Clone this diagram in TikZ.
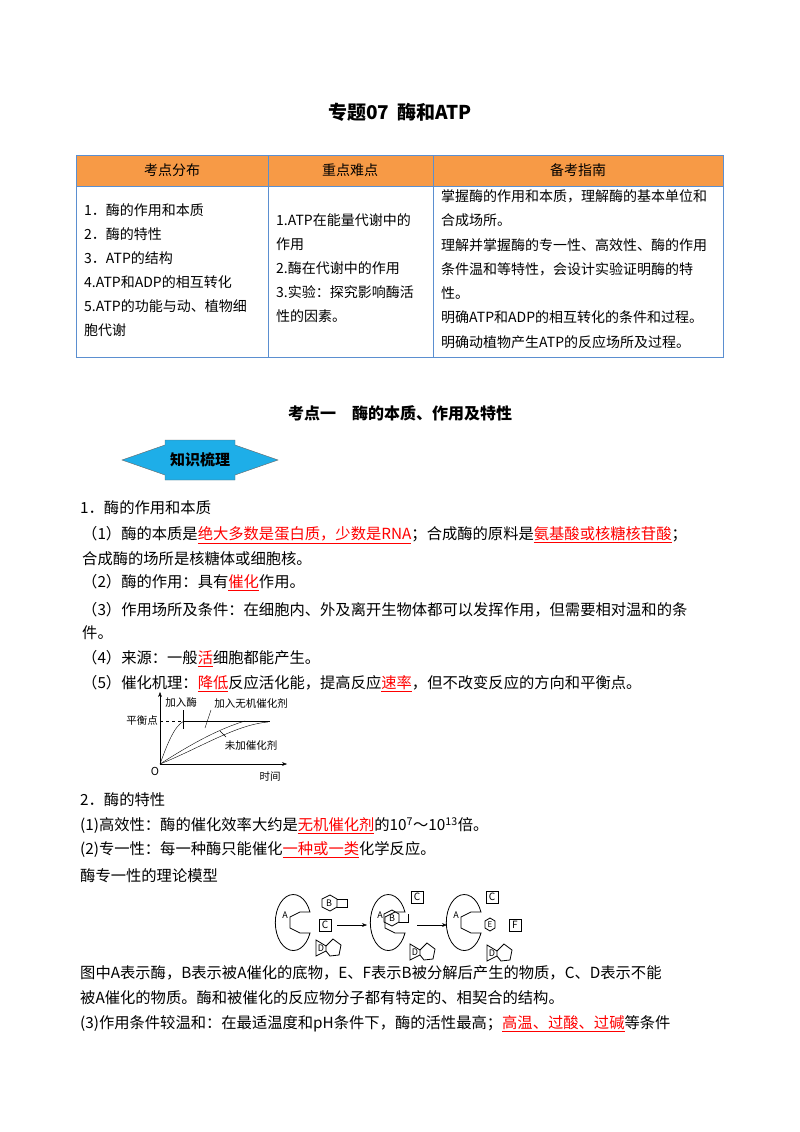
\documentclass[tikz,border=0pt]{standalone}
\usepackage{fontspec}
\setmainfont{Noto Sans CJK SC}
\usetikzlibrary{arrows.meta}
\newcommand\ru[1]{\textcolor{red}{\underline{#1}}}
\definecolor{hdr}{HTML}{F79A46}
\definecolor{bdr}{HTML}{5B8FD0}
\definecolor{badge}{HTML}{1EAEE8}
\begin{document}
\begin{tikzpicture}[x=1pt,y=-1pt,
  t/.style={anchor=west,inner sep=0pt,font=\fontsize{15.3}{16}\selectfont},
  tb/.style={anchor=west,inner sep=0pt,font=\fontsize{14}{15}\selectfont},
  c/.style={inner sep=0pt,font=\fontsize{14}{15}\selectfont},
  sm/.style={inner sep=0pt,font=\fontsize{10.5}{12}\selectfont},
  bx/.style={draw,thick,minimum size=12pt,inner sep=0pt,font=\fontsize{10}{10}\selectfont},
  shp/.style={thick}]
\useasboundingbox (0,0) rectangle (800,1132);
% title
\node[inner sep=0,font=\fontsize{19}{20}\selectfont\bfseries] (title) at (400,112) {专题07\ \ 酶和ATP};
% table
\fill[hdr] (76,155) rectangle (723,186);
\draw[bdr,thick] (76,155) rectangle (723,357) (76,186)--(723,186) (268,155)--(268,357) (433,155)--(433,357);
\node[c] (h1) at (172,170) {考点分布};
\node[c] (h2) at (350,170) {重点难点};
\node[c] (h3) at (578,170) {备考指南};
\node[tb] (a1) at (84,210) {1．酶的作用和本质};
\node[tb] (a2) at (84,234) {2．酶的特性};
\node[tb] (a3) at (84,258) {3．ATP的结构};
\node[tb] (a4) at (84,282) {4.ATP和ADP的相互转化};
\node[tb] (a5) at (84,306) {5.ATP的功能与动、植物细};
\node[tb] (a6) at (84,330) {胞代谢};
\node[tb] (b1) at (276,220) {1.ATP在能量代谢中的};
\node[tb] (b2) at (276,244) {作用};
\node[tb] (b3) at (276,268) {2.酶在代谢中的作用};
\node[tb] (b4) at (276,292) {3.实验：探究影响酶活};
\node[tb] (b5) at (276,316) {性的因素。};
\node[tb] (c1) at (441,196) {掌握酶的作用和本质，理解酶的基本单位和};
\node[tb] (c2) at (441,220) {合成场所。};
\node[tb] (c3) at (441,245) {理解并掌握酶的专一性、高效性、酶的作用};
\node[tb] (c4) at (441,269) {条件温和等特性，会设计实验证明酶的特};
\node[tb] (c5) at (441,293) {性。};
\node[tb] (c6) at (441,317) {明确ATP和ADP的相互转化的条件和过程。};
\node[tb] (c7) at (441,342) {明确动植物产生ATP的反应场所及过程。};
% section
\node[inner sep=0,font=\fontsize{16}{18}\selectfont\bfseries] (sec) at (400,413) {考点一\quad 酶的本质、作用及特性};
% badge
\fill[badge,draw=black!60,thin] (122,460)--(165,445)--(165,440)--(235,440)--(235,445)--(278,460)--(235,475)--(235,480)--(165,480)--(165,475)--cycle;
\node[inner sep=0,font=\fontsize{15}{16}\selectfont\bfseries] (bd) at (200,460) {知识梳理};
% body
\node[t] (l1) at (80,508) {1．酶的作用和本质};
\node[t] (l2) at (82,535) {（1）酶的本质是\ru{绝大多数是蛋白质，少数是RNA}；合成酶的原料是\ru{氨基酸或核糖核苷酸}；};
\node[t] (l3) at (82,559) {合成酶的场所是核糖体或细胞核。};
\node[t] (l4) at (82,583) {（2）酶的作用：具有\ru{催化}作用。};
\node[t] (l5) at (82,610) {（3）作用场所及条件：在细胞内、外及离开生物体都可以发挥作用，但需要相对温和的条};
\node[t] (l6) at (82,633) {件。};
\node[t] (l7) at (82,659) {（4）来源：一般\ru{活}细胞都能产生。};
\node[t] (l8) at (82,684) {（5）催化机理：\ru{降低}反应活化能，提高反应\ru{速率}，但不改变反应的方向和平衡点。};
% graph
\coordinate (O) at (160,764);
\coordinate (yt) at (160,692);
\coordinate (xt) at (287,764);
\draw[-{Stealth[length=5pt]}] (O)--(yt);
\draw[-{Stealth[length=5pt]}] (O)--(xt);
\coordinate (p0) at (160,721);
\coordinate (p1) at (184,721);
\coordinate (p2) at (270,721);
\draw[dashed] (p0)--(p1);
\draw (p1)--(p2);
\draw (O) .. controls (167,745) and (174,726) .. (p1);
\draw (O) .. controls (185,748) and (215,730) .. (245,721);
\draw (O) .. controls (200,748) and (235,725) .. (268,722);
\node[sm,anchor=east] (pp) at (158,721) {平衡点};
\node[sm,font=\fontsize{11}{12}\selectfont\itshape] (ol) at (155,771) {O};
\node[sm] (tl) at (270,777) {时间};
\node[sm] (e1) at (181,703) {加入酶};
\node[sm] (e2) at (251,703) {加入无机催化剂};
\node[sm] (e3) at (251,745) {未加催化剂};
\coordinate (k1) at (183,710); \coordinate (k2) at (183,729);
\draw (k1)--(k2);
\coordinate (k3) at (211,710); \coordinate (k4) at (205,728);
\draw (k3)--(k4);
\coordinate (k5) at (226,737); \coordinate (k6) at (220,731);
\draw (k5)--(k6);
% section 2
\node[t] (m1) at (80,800) {2．酶的特性};
\node[t] (m2) at (80,826) {(1)高效性：酶的催化效率大约是\ru{无机催化剂}的10\textsuperscript{7}～10\textsuperscript{13}倍。};
\node[t] (m3) at (80,850) {(2)专一性：每一种酶只能催化\ru{一种或一类}化学反应。};
\node[t] (m4) at (80,876) {酶专一性的理论模型};
% model
\foreach \cx/\nm in {295/A1,390/A2,466/A3}{
  \draw[shp] (\cx+15,933) arc[x radius=18,y radius=28,start angle=22,end angle=338]
     -- (\cx+5,912) -- (\cx-5,917) -- (\cx-5,928) -- (\cx+5,933) -- cycle;
  \node[sm,font=\fontsize{9}{9}\selectfont] (\nm) at (\cx-10,915) {A};
}
% B free
\draw[shp] (330,895)--(337,899)--(337,907)--(330,911)--(322,907)--(322,899)--cycle;
\draw[shp] (337,899)--(347,899)--(347,907)--(337,907);
\node[sm,font=\fontsize{9}{9}\selectfont] (B1) at (329,903) {B};
\node[bx] (C1) at (325,925) {C};
\foreach \dx/\dy/\nm in {322/948/D1,416/952/D2,493/953/D3}{
  \draw[shp] (\dx-6,\dy-8)--(\dx+4,\dy-2)--(\dx+4,\dy+3)--(\dx-6,\dy+8)--cycle;
  \draw[shp] (\dx+4,\dy-2)--(\dx+11,\dy-9)--(\dx+19,\dy-3)--(\dx+17,\dy+7)--(\dx+8,\dy+8)--(\dx+4,\dy+3);
  \node[sm,font=\fontsize{9}{9}\selectfont] (\nm) at (\dx-1,\dy) {D};
}
\draw[-{Stealth[length=5pt]}] (C1.east)++(6,0) coordinate (ar1) -- (367,925);
% B bound
\draw[shp] (392,910)--(399,914)--(399,922)--(392,926)--(384,922)--(384,914)--cycle;
\draw[shp] (399,922)--(408,922)--(408,914);
\node[sm,font=\fontsize{9}{9}\selectfont] (B2) at (392,918) {B};
\node[bx] (C2) at (417,897) {C};
\draw[-{Stealth[length=5pt]}] (417,925) coordinate (ar2) -- (447,925);
\node[bx] (C3) at (492,897) {C};
\draw[shp] (490,918)--(495,921)--(495,928)--(490,931)--(485,928)--(485,921)--cycle;
\node[sm,font=\fontsize{8}{8}\selectfont] (E3) at (490,925) {E};
\node[bx] (F3) at (515,925) {F};
% closing text
\node[t] (n1) at (80,973) {图中A表示酶，B表示被A催化的底物，E、F表示B被分解后产生的物质，C、D表示不能};
\node[t] (n2) at (80,998) {被A催化的物质。酶和被催化的反应物分子都有特定的、相契合的结构。};
\node[t] (n3) at (80,1024) {(3)作用条件较温和：在最适温度和pH条件下，酶的活性最高；\ru{高温、过酸、过碱}等条件};
\end{tikzpicture}
\end{document}
